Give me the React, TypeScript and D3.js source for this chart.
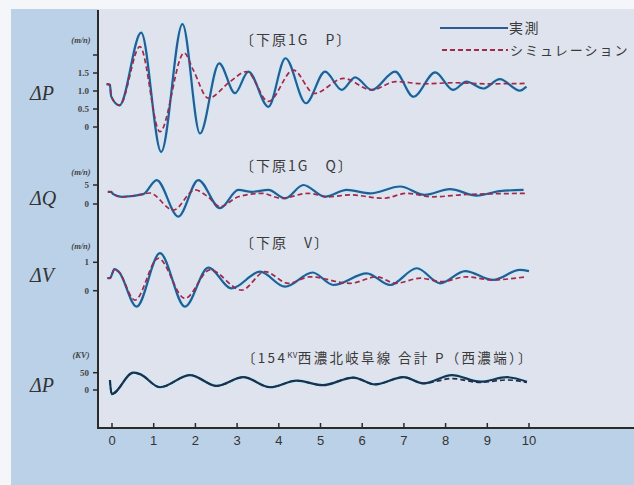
import React from "react";
import * as d3 from "d3";

// ---- data: [time (s), value] ----
const p1Real: [number, number][] = [[-0.13,1.19],[-0.05,1.17],[-0.02,0.85],[0.18,0.6],[0.7,2.62],[1.18,-0.69],[1.69,2.86],[2.11,-0.18],[2.57,1.77],[2.95,0.94],[3.27,1.54],[3.75,0.56],[4.16,1.91],[4.65,0.66],[5.11,1.54],[5.51,1.03],[5.83,1.38],[6.23,1.03],[6.79,1.54],[7.23,0.84],[7.75,1.52],[8.18,1.03],[8.5,1.26],[8.9,1.07],[9.3,1.33],[9.78,1.01],[9.94,1.12]];
const p1Sim: [number, number][] = [[-0.13,1.19],[-0.05,1.17],[-0.02,0.85],[0.18,0.6],[0.67,2.23],[1.15,-0.13],[1.73,2.06],[1.95,1.58],[2.31,0.8],[2.83,1.26],[3.23,1.54],[3.75,0.71],[4.35,1.58],[4.85,0.93],[5.55,1.35],[6.23,1.03],[6.8,1.26],[7.5,1.2],[8.2,1.23],[9.0,1.2],[9.94,1.21]];
const qReal: [number, number][] = [[-0.1,3.2],[-0.02,3.2],[0.03,2.6],[0.23,1.9],[0.75,2.6],[1.07,6.3],[1.59,-3.3],[2.07,6.3],[2.59,-1.1],[3.03,3.7],[3.35,3.2],[3.75,3.7],[4.15,1.5],[4.59,5.0],[5.11,1.9],[5.63,3.7],[6.19,2.8],[6.91,4.6],[7.5,2.4],[8.1,3.9],[8.75,2.2],[9.3,3.4],[9.87,3.7]];
const qSim: [number, number][] = [[-0.1,3.2],[-0.02,3.2],[0.03,2.6],[0.23,1.9],[0.75,2.6],[0.9,2.9],[1.47,-1.6],[1.99,3.7],[2.3,1.9],[2.59,-0.7],[3.03,1.9],[3.6,2.8],[4.05,1.5],[4.7,2.8],[5.2,1.9],[5.7,2.4],[6.51,1.5],[7.07,2.8],[7.7,1.9],[8.5,2.5],[9.94,2.8]];
const vReal: [number, number][] = [[-0.11,0.44],[-0.05,0.44],[0.06,0.76],[0.16,0.67],[0.59,-0.56],[1.15,1.32],[1.75,-0.56],[2.31,0.81],[2.87,0.08],[3.55,0.67],[4.15,0.14],[4.81,0.64],[5.31,0.2],[6.11,0.61],[6.67,0.2],[7.31,0.79],[7.87,0.26],[8.47,0.69],[9.14,0.38],[9.78,0.73],[10.0,0.69]];
const vSim: [number, number][] = [[-0.11,0.44],[-0.05,0.44],[0.06,0.76],[0.16,0.67],[0.55,-0.33],[1.11,1.14],[1.75,-0.27],[2.35,0.73],[3.11,0.02],[3.67,0.67],[4.23,0.26],[4.75,0.49],[5.71,0.26],[6.35,0.49],[6.8,0.26],[7.4,0.44],[7.9,0.32],[8.5,0.49],[9.1,0.38],[9.94,0.49]];
const lineReal: [number, number][] = [[-0.05,29],[-0.01,-12],[0.51,50],[0.67,46],[1.15,8],[1.87,43],[2.51,12],[3.15,37],[3.79,8],[4.43,27],[5.05,14],[5.79,36],[6.31,16],[6.99,37],[7.47,19],[8.15,43],[8.83,24],[9.47,37],[9.95,24]];
const lineSim: [number, number][] = [[-0.05,29],[-0.01,-12],[0.51,50],[0.67,46],[1.15,8],[1.87,43],[2.51,12],[3.15,37],[3.79,8],[4.43,27],[5.05,14],[5.79,36],[6.31,16],[6.99,37],[7.47,19],[8.15,33],[8.83,22],[9.47,29],[9.95,22]];

const xTicks = [0,1,2,3,4,5,6,7,8,9,10];
const p1Ticks = [0,0.5,1,1.5,2];
const p1TickLabels = ["0","0.5","1.0","1.5",""];
const qTicks = [0,5];
const vTicks = [0,1];
const lineTicks = [0,50];

const BLUE = "#2a5b92";
const HALO = "#c4ecf8";
const RED = "#a3284a";

export default function App() {
  const x = d3.scaleLinear().domain([0, 10]).range([112, 529]);
  const panels = [
    { real: p1Real, sim: p1Sim, y: d3.scaleLinear().domain([0, 2]).range([127, 55]), ticks: p1Ticks, labels: p1TickLabels, unit: "(m/n)", name: "P", title: "〔下原1G\u3000P〕", ly: 93 },
    { real: qReal, sim: qSim, y: d3.scaleLinear().domain([0, 5]).range([204, 185]), ticks: qTicks, labels: qTicks.map(String), unit: "(m/n)", name: "Q", title: "〔下原1G\u3000Q〕", ly: 198 },
    { real: vReal, sim: vSim, y: d3.scaleLinear().domain([0, 1]).range([290.7, 262.3]), ticks: vTicks, labels: vTicks.map(String), unit: "(m/n)", name: "V", title: "〔下原\u3000V〕", ly: 275 },
    { real: lineReal, sim: lineSim, y: d3.scaleLinear().domain([0, 50]).range([390, 372.7]), ticks: lineTicks, labels: lineTicks.map(String), unit: "(KV)", name: "P", title: null, ly: 385 },
  ];
  const unitY = [43, 175, 249, 358];
  const titleY = [45, 171, 248, 363];

  return (
    <svg width={634} height={485} style={{ position: "absolute", left: 0, top: 0 }} fontFamily="'Noto Sans CJK JP', sans-serif">
      <rect x={0} y={0} width={634} height={485} fill="#f4f6f9" />
      <rect x={11} y={9} width={623} height={476} fill="#bbd1e8" />
      <rect x={98} y={9} width={536} height={419} fill="#dfe3ed" />
      {/* axes */}
      <line x1={98} y1={10} x2={98} y2={428} stroke="#2a2a2a" strokeWidth={2} />
      <line x1={97} y1={428} x2={634} y2={428} stroke="#2a2a2a" strokeWidth={2} />
      {xTicks.map((t) => (
        <g key={t}>
          <line x1={x(t)} x2={x(t)} y1={423} y2={428} stroke="#2a2a2a" strokeWidth={1.5} />
          <text x={x(t)} y={445} fontSize={13} textAnchor="middle" fill="#333" fontFamily="'Liberation Sans Narrow', 'Liberation Sans', sans-serif">{t}</text>
        </g>
      ))}
      {panels.map((p, i) => {
        const line = d3.line<[number, number]>().x((d) => x(d[0])).y((d) => p.y(d[1])).curve(d3.curveMonotoneX);
        return (
          <g key={i}>
            {p.ticks.map((t, j) => (
              <g key={j}>
                <line x1={93} x2={98} y1={p.y(t)} y2={p.y(t)} stroke="#2a2a2a" strokeWidth={1.5} />
                <text x={89} y={p.y(t) + 3} fontSize={9} textAnchor="end" fill="#444" fontWeight="bold" fontFamily="'Liberation Serif', serif">{p.labels[j]}</text>
              </g>
            ))}
            <text x={81} y={unitY[i]} fontSize={8.5} textAnchor="middle" fill="#444" fontStyle="italic" fontWeight="bold" fontFamily="'Liberation Serif', serif">{p.unit}</text>
            <text x={30} y={p.ly + 7} fontSize={20} fill="#333" fontStyle="italic" fontFamily="'Liberation Serif', serif">Δ{p.name}</text>
            <path d={line(p.real) || ""} fill="none" stroke={HALO} strokeWidth={4.6} strokeLinejoin="round" />
            <path d={line(p.real) || ""} fill="none" stroke={i === 3 ? "#1d3350" : BLUE} strokeWidth={2.2} strokeLinejoin="round" />
            <path d={line(p.sim) || ""} fill="none" stroke={i === 3 ? "#2a2a48" : RED} strokeWidth={1.7} strokeDasharray="5,3" />
            {p.title ? (
              <text x={240} y={titleY[i]} fontSize={14} letterSpacing={2} fill="#3a3a3a">{p.title}</text>
            ) : (
              <text x={242} y={titleY[i]} fontSize={13.5} letterSpacing={2.3} fill="#3a3a3a">
                〔154<tspan fontSize={8} dy={-5} letterSpacing={0.5}>KV</tspan><tspan dy={5}>西濃北岐阜線 合計 P（西濃端）〕</tspan>
              </text>
            )}
          </g>
        );
      })}
      {/* legend */}
      <line x1={440} x2={508} y1={28} y2={28} stroke={BLUE} strokeWidth={2.2} />
      <text x={509} y={33} fontSize={14} letterSpacing={1.5} fill="#3a3a3a">実測</text>
      <line x1={442} x2={508} y1={50} y2={50} stroke={RED} strokeWidth={1.8} strokeDasharray="5,3" />
      <text x={510} y={55} fontSize={13} letterSpacing={2} fill="#3a3a3a">シミュレーション</text>
    </svg>
  );
}
